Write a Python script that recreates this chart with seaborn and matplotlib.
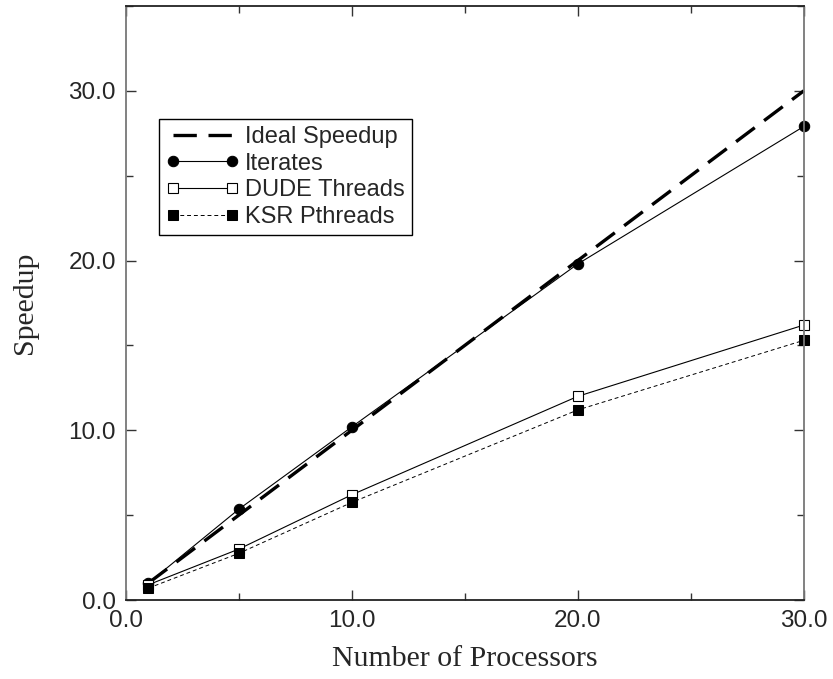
import pandas as pd
import seaborn as sns
import matplotlib.pyplot as plt
from matplotlib.ticker import MultipleLocator, FormatStrFormatter

# datos
procesadores = [1, 5, 10, 20, 30]
ideal = [1, 5, 10, 20, 30]
iterates = [1.0, 5.35, 10.2, 19.8, 27.9]
dude = [0.9, 3.0, 6.2, 12.0, 16.2]
ksr = [0.7, 2.75, 5.75, 11.2, 15.3]

sns.set_style("ticks")
plt.rcParams['font.family'] = ['Liberation Sans', 'DejaVu Sans']

fig = plt.figure(figsize=(8.33, 6.79), dpi=100)
ax = fig.add_axes([0.151, 0.1163, 0.814, 0.875])

df = pd.DataFrame({'x': procesadores, 'Ideal Speedup': ideal, 'Iterates': iterates,
                   'DUDE Threads': dude, 'KSR Pthreads': ksr})

sns.lineplot(data=df, x='x', y='Ideal Speedup', ax=ax, color='black', linewidth=2.4,
             label='Ideal Speedup')
ax.lines[-1].set_dashes([7, 3.5])
sns.lineplot(data=df, x='x', y='Iterates', ax=ax, color='black', linewidth=0.8,
             marker='o', markersize=7.5, markeredgecolor='black', label='Iterates')
sns.lineplot(data=df, x='x', y='DUDE Threads', ax=ax, color='black', linewidth=0.8,
             marker='s', markersize=6.5, markerfacecolor='white', markeredgecolor='black',
             markeredgewidth=0.8, label='DUDE Threads')
sns.lineplot(data=df, x='x', y='KSR Pthreads', ax=ax, color='black', linewidth=0.7,
             marker='s', markersize=7, markeredgecolor='black', label='KSR Pthreads')
ax.lines[-1].set_dashes([4, 3])
for ln in ax.lines:
    ln.set_clip_on(False)

ax.set_xlim(0, 30)
ax.set_ylim(0, 35)
ax.xaxis.set_major_locator(MultipleLocator(10))
ax.xaxis.set_minor_locator(MultipleLocator(5))
ax.yaxis.set_major_locator(MultipleLocator(10))
ax.yaxis.set_minor_locator(MultipleLocator(5))
ax.xaxis.set_major_formatter(FormatStrFormatter('%.1f'))
ax.yaxis.set_major_formatter(FormatStrFormatter('%.1f'))
ax.tick_params(which='both', direction='in', top=True, right=True, width=1, color='#333333')
ax.tick_params(which='major', length=7, labelsize=17.5, pad=7)
ax.tick_params(which='minor', length=5)
for lado, s in ax.spines.items():
    s.set_linewidth(1.3)
    s.set_color('#222222' if lado in ('top', 'bottom') else '#777777')

ax.set_xlabel('Number of Processors', family=['Liberation Serif'], fontsize=21.5, labelpad=10)
ax.set_ylabel('Speedup', family=['Liberation Serif'], fontsize=21.5, labelpad=22)

leg = ax.legend(loc='upper left', bbox_to_anchor=(0.049, 0.81), borderaxespad=0,
                fontsize=17, numpoints=2, handlelength=3.1, fancybox=False, framealpha=1,
                edgecolor='black', borderpad=0.3, labelspacing=0.2, handletextpad=0.25)
leg.get_frame().set_linewidth(1)

plt.savefig("out.png", dpi=100)
